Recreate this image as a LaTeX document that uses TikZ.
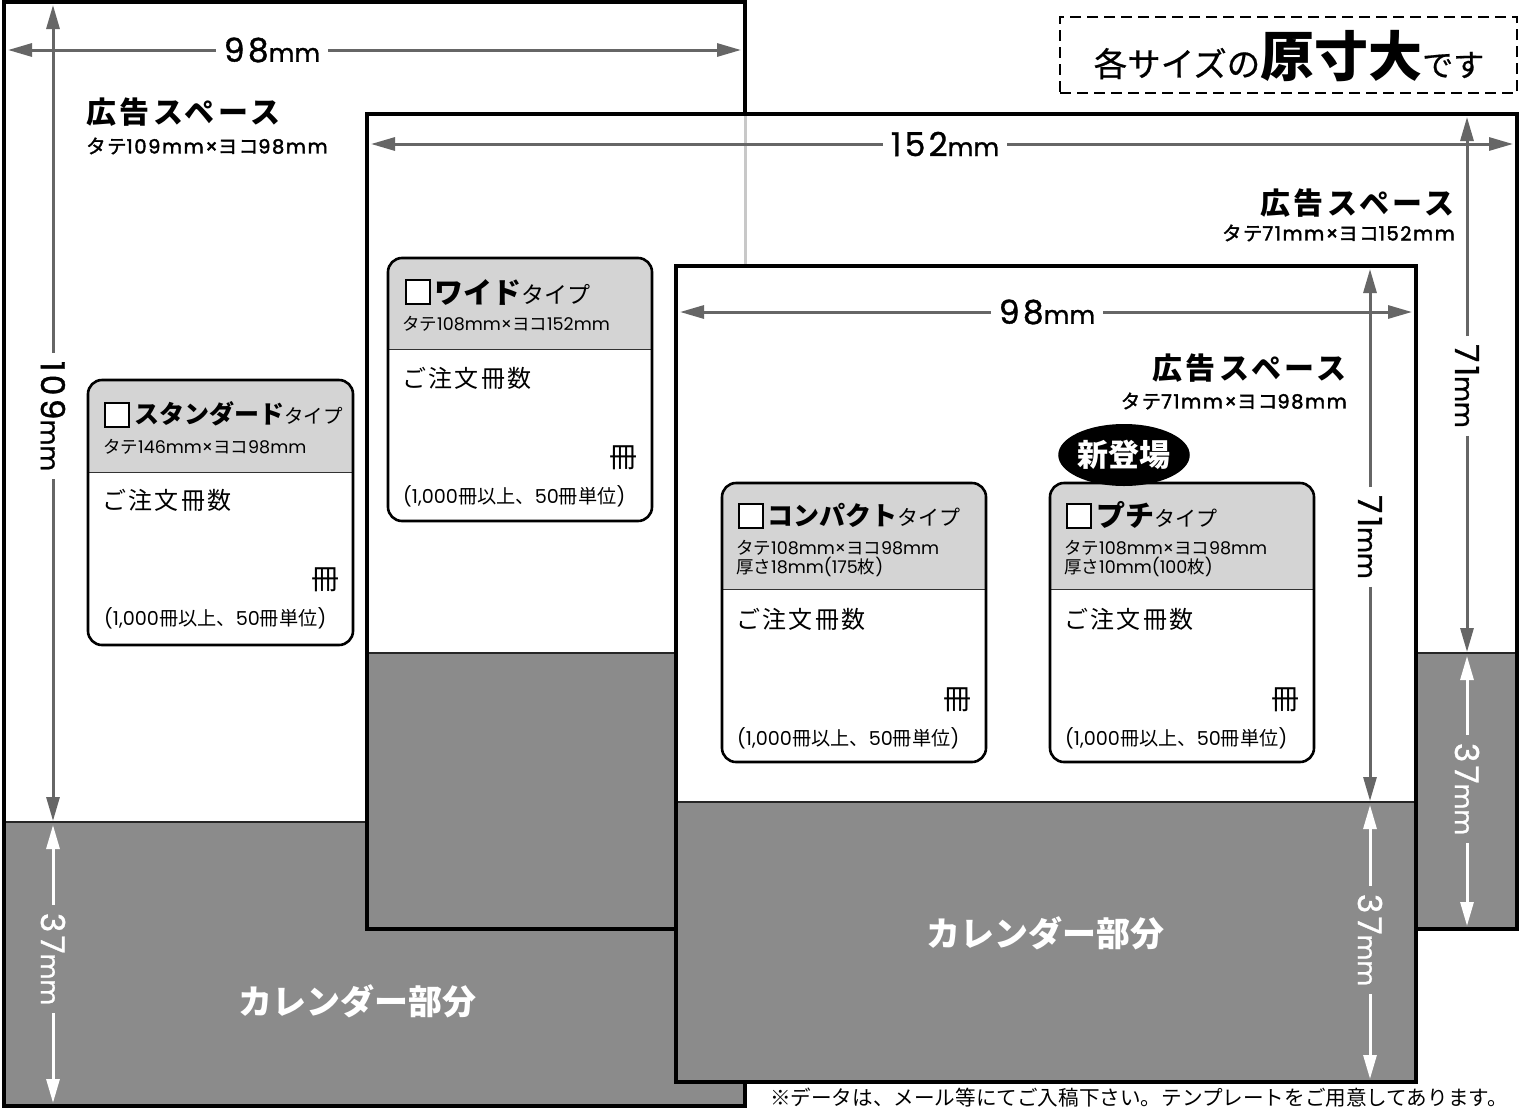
\documentclass[tikz,border=0pt]{standalone}
\usepackage{fontspec}
\setmainfont{Noto Sans CJK JP}
\newfontfamily\jpsp[LetterSpace=12]{Noto Sans CJK JP}
\newfontfamily\jpspw[LetterSpace=10]{Noto Sans CJK JP}
\newfontfamily\jpsub[LetterSpace=7,FakeBold=1.5]{Noto Sans CJK JP}
\newfontfamily\jpmed[FakeBold=0.6]{Noto Sans CJK JP}
\newfontfamily\latn{Poppins}
\newfontfamily\latsp[LetterSpace=8,FakeBold=2]{Poppins}
\newfontfamily\latdim[LetterSpace=10,FakeBold=1]{Poppins}
\newfontfamily\latmm[FakeBold=1]{Poppins}
\usetikzlibrary{arrows.meta,shapes.geometric}
\definecolor{calgray}{HTML}{8B8B8B}
\definecolor{hdrgray}{HTML}{D4D4D4}
\definecolor{arrowgray}{HTML}{666666}
\definecolor{ghost}{HTML}{C8C8C8}
\newcommand\fs[1]{\fontsize{#1}{#1}\selectfont}
\newcommand\dimtxt[1]{{\fs{33}\latdim #1}{\fs{25}\latmm mm}}
\newcommand\adsubtxt[2]{{\jpsub タテ}{\latsp #1mm×}{\jpsub ヨコ}{\latsp #2mm}}
\newcommand\cardsub[2]{タテ{\latn #1mm×}ヨコ{\latn #2mm}}
\newcommand\thick[2]{厚さ{\latn #1mm(#2}枚{\latn )}}
\newcommand\cardnote{{\latn (1,000}冊以上、{\latn 50}冊単位{\latn )}}
\tikzset{
  sheetborder/.style={draw=black, line width=3.5pt},
  dimline/.style={draw=arrowgray, line width=3pt, -{Triangle[length=24pt,width=13pt]}},
  dimlinew/.style={draw=white, line width=3pt, -{Triangle[length=24pt,width=13pt]}},
  dimlab/.style={fill=white, inner xsep=8pt, inner ysep=3pt, text=black},
  dimlabw/.style={fill=calgray, inner xsep=8pt, inner ysep=3pt, text=white},
  txt/.style={inner sep=0pt},
  cardbox/.style={draw=black, line width=2.6pt, rounded corners=14pt},
  chk/.style={draw=black, fill=white, line width=1.3pt, minimum size=24pt, inner sep=0pt},
  divline/.style={draw=black!80, line width=1pt},
  adtitle/.style={inner sep=0pt, font=\fs{30}\bfseries\jpsp},
  adsub/.style={inner sep=0pt, font=\fs{19.5}},
  calab/.style={inner sep=0pt, text=white, font=\fs{34}\bfseries},
  subtxt/.style={inner sep=0pt, font=\fs{17.5}},
  ordtxt/.style={inner sep=0pt, font=\fs{24}\jpspw},
  unittxt/.style={inner sep=0pt, font=\fs{28}},
  notetxt/.style={inner sep=0pt, font=\fs{19.2}},
}
% card: name, x1, y1, x2, y2, ydiv
\newcommand\mycard[6]{%
  \fill[white, rounded corners=14pt] (#2,#3) rectangle (#4,#5);
  \begin{scope}
    \clip[rounded corners=14pt] (#2,#3) rectangle (#4,#5);
    \fill[hdrgray] (#2,#3) rectangle (#4,#6);
  \end{scope}
  \draw[divline] (#2,#6) -- (#4,#6);
  \draw[cardbox] (#2,#3) rectangle (#4,#5);
}
\begin{document}
\begin{tikzpicture}[x=1pt,y=-1pt]
\useasboundingbox (0,0) rectangle (1527,1109);
\fill[white] (0,0) rectangle (1527,1109);

% ---------------- Sheet 1 (standard) ----------------
\fill[white] (4,2) rectangle (745,1106);
\fill[calgray] (4,822) rectangle (745,1106);
\draw[black!85, line width=1.2pt] (4,822) -- (745,822);
\draw[sheetborder] (4,2) rectangle (745,1106);

\coordinate (s1L) at (8,50);
\coordinate (s1R) at (741,50);
\node[dimlab] (d98a) at (272,50) {\dimtxt{98}};
\draw[dimline] (d98a) -- (s1L);
\draw[dimline] (d98a) -- (s1R);

\coordinate (s1T) at (53,5);
\coordinate (s1B) at (53,821);
\node[dimlab, rotate=-90] (d109) at (53,416) {\dimtxt{109}};
\draw[dimline] (d109) -- (s1T);
\draw[dimline] (d109) -- (s1B);

\coordinate (s1cT) at (53,825);
\coordinate (s1cB) at (53,1103);
\node[dimlabw, rotate=-90] (d37a) at (53,959) {\dimtxt{37}};
\draw[dimlinew] (d37a) -- (s1cT);
\draw[dimlinew] (d37a) -- (s1cB);

\node[adtitle, anchor=west] (ad1) at (86,112) {広告スペース};
\node[adsub, anchor=west] (ad1s) at (86,146) {\adsubtxt{109}{98}};
\node[calab] (cal1) at (357,1001) {カレンダー部分};

% standard card
\mycard{std}{88}{380}{353}{645}{472}
\node[chk] (stdchk) at (117,415) {};
\node[txt, anchor=west] (stdt) at (134,414) {{\fs{25}\bfseries スタンダード}{\fs{19.5}タイプ}};
\node[subtxt, anchor=west] (stds) at (103,447) {\cardsub{146}{98}};
\node[ordtxt, anchor=west] (stdo) at (102,500) {ご注文冊数};
\node[unittxt, anchor=east] (stdu) at (340,580) {冊};
\node[notetxt, anchor=west] (stdn) at (104,618) {\cardnote};

% ---------------- Sheet 2 (wide) ----------------
\fill[white] (367,114) rectangle (1517,929);
\fill[calgray] (367,653) rectangle (1517,929);
\draw[black!85, line width=1.2pt] (367,653) -- (1517,653);
\draw[ghost, line width=3pt] (745,116) -- (745,264);
\draw[sheetborder] (367,114) rectangle (1517,929);

\coordinate (s2L) at (371,144);
\coordinate (s2R) at (1513,144);
\node[dimlab] (d152) at (945,144) {\dimtxt{152}};
\draw[dimline] (d152) -- (s2L);
\draw[dimline] (d152) -- (s2R);

\coordinate (s2T) at (1467,117);
\coordinate (s2B) at (1467,652);
\node[dimlab, rotate=-90] (d71b) at (1467,386) {\dimtxt{71}};
\draw[dimline] (d71b) -- (s2T);
\draw[dimline] (d71b) -- (s2B);

\coordinate (s2cT) at (1467,656);
\coordinate (s2cB) at (1467,926);
\node[dimlabw, rotate=-90] (d37b) at (1467,789) {\dimtxt{37}};
\draw[dimlinew] (d37b) -- (s2cT);
\draw[dimlinew] (d37b) -- (s2cB);

\node[adtitle, anchor=east] (ad2) at (1455,203) {広告スペース};
\node[adsub, anchor=east] (ad2s) at (1455,233) {\adsubtxt{71}{152}};

% wide card
\mycard{wide}{388}{258}{652}{521}{349}
\node[chk] (widechk) at (418,292) {};
\node[txt, anchor=west] (widet) at (434,292) {{\fs{29}\bfseries ワイド}{\fs{23}タイプ}};
\node[subtxt, anchor=west] (wides) at (402,324) {\cardsub{108}{152}};
\node[ordtxt, anchor=west] (wideo) at (402,378) {ご注文冊数};
\node[unittxt, anchor=east] (wideu) at (638,458) {冊};
\node[notetxt, anchor=west] (widen) at (403,496) {\cardnote};

% ---------------- Sheet 3 (compact / petit) ----------------
\fill[white] (676,266) rectangle (1416,1082);
\fill[calgray] (676,802) rectangle (1416,1082);
\draw[black!85, line width=1.2pt] (676,802) -- (1416,802);
\draw[sheetborder] (676,266) rectangle (1416,1082);

\coordinate (s3L) at (680,312);
\coordinate (s3R) at (1412,312);
\node[dimlab] (d98c) at (1047,312) {\dimtxt{98}};
\draw[dimline] (d98c) -- (s3L);
\draw[dimline] (d98c) -- (s3R);

\coordinate (s3T) at (1370,269);
\coordinate (s3B) at (1370,801);
\node[dimlab, rotate=-90] (d71c) at (1370,537) {\dimtxt{71}};
\draw[dimline] (d71c) -- (s3T);
\draw[dimline] (d71c) -- (s3B);

\coordinate (s3cT) at (1370,805);
\coordinate (s3cB) at (1370,1079);
\node[dimlabw, rotate=-90] (d37c) at (1370,940) {\dimtxt{37}};
\draw[dimlinew] (d37c) -- (s3cT);
\draw[dimlinew] (d37c) -- (s3cB);

\node[adtitle, anchor=east] (ad3) at (1347,368) {広告スペース};
\node[adsub, anchor=east] (ad3s) at (1347,401) {\adsubtxt{71}{98}};
\node[calab] (cal3) at (1045,933) {カレンダー部分};

% compact card
\mycard{cmp}{722}{483}{986}{762}{589}
\node[chk] (cmpchk) at (751,516) {};
\node[txt, anchor=west] (cmpt) at (767,515) {{\fs{26}\bfseries コンパクト}{\fs{21}タイプ}};
\node[subtxt, anchor=west, align=left, text depth=0pt] (cmps) at (736,557) {\cardsub{108}{98}\\[2pt]\thick{18}{175}};
\node[ordtxt, anchor=west] (cmpo) at (736,619) {ご注文冊数};
\node[unittxt, anchor=east] (cmpu) at (972,700) {冊};
\node[notetxt, anchor=west] (cmpn) at (737,738) {\cardnote};

% petit card
\mycard{ptt}{1050}{483}{1314}{762}{589}
\node[chk] (pttchk) at (1079,516) {};
\node[txt, anchor=west] (pttt) at (1096,515) {{\fs{29}\bfseries プチ}{\fs{21}タイプ}};
\node[subtxt, anchor=west, align=left, text depth=0pt] (ptts) at (1064,557) {\cardsub{108}{98}\\[2pt]\thick{10}{100}};
\node[ordtxt, anchor=west] (ptto) at (1064,619) {ご注文冊数};
\node[unittxt, anchor=east] (pttu) at (1300,700) {冊};
\node[notetxt, anchor=west] (pttn) at (1065,738) {\cardnote};

% new badge
\node[ellipse, fill=black, minimum width=126pt, minimum height=62pt, inner sep=0pt, text=white, font=\fs{31}\bfseries] (newb) at (1124,455) {新登場};

% ---------------- header box ----------------
\node[draw=black, line width=2.6pt, dash pattern=on 11pt off 6pt, minimum width=457pt, minimum height=76pt, inner sep=0pt] (hdr) at (1288.5,55) {};
\node[txt] (hdrt) at (1289,56) {{\fs{33.5}\jpmed 各サイズの}{\fs{54}\bfseries 原寸大}{\fs{31}\jpmed です}};

% ---------------- footer ----------------
\node[txt, anchor=east] (foot) at (1508,1098) {\fs{20.6}※データは、メール等にてご入稿下さい。テンプレートをご用意してあります。};
\end{tikzpicture}
\end{document}
